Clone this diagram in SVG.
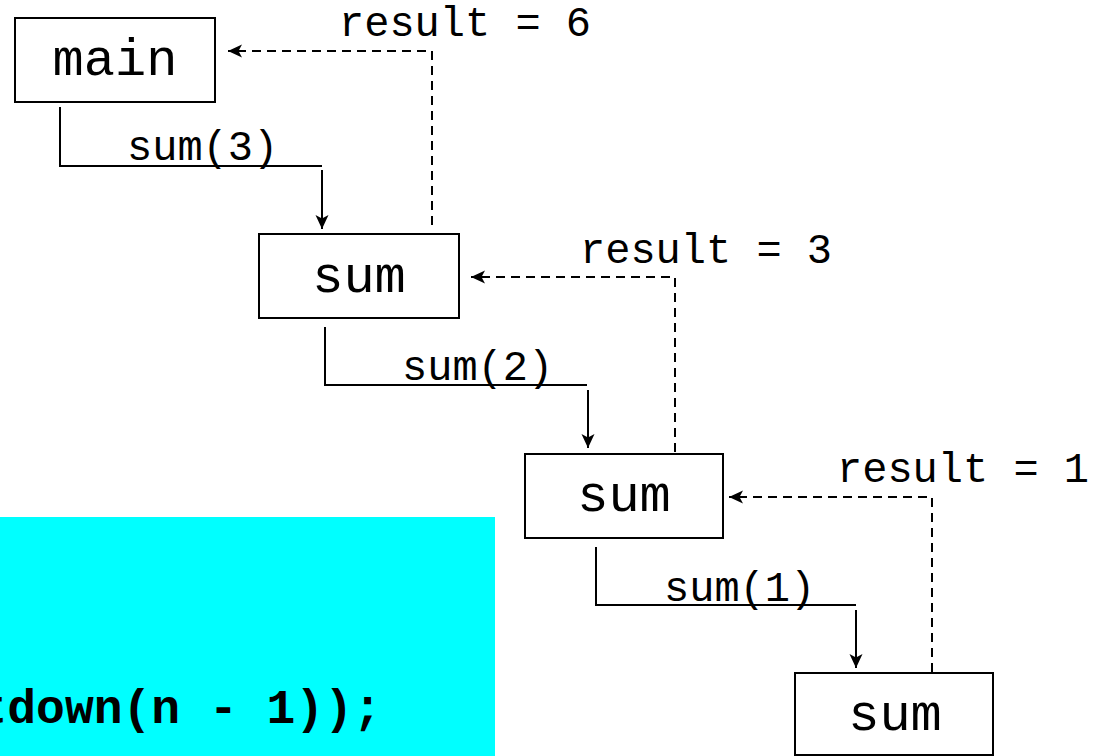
<svg xmlns="http://www.w3.org/2000/svg" width="1101" height="756" viewBox="0 0 1101 756">
<defs>
<style>
.box{fill:#fff;stroke:#000;stroke-width:2}
.lbl{font-family:"Liberation Mono","Courier New",monospace;font-size:52px;fill:#000;text-anchor:middle}
.small{font-family:"Liberation Mono","Courier New",monospace;font-size:42px;fill:#000}
.call{fill:none;stroke:#000;stroke-width:2}
.ret{fill:none;stroke:#000;stroke-width:2;stroke-dasharray:9 6}
.code{font-family:"Liberation Mono","Courier New",monospace;font-size:48px;font-weight:bold;fill:#000}
</style>
<marker id="ah" markerUnits="userSpaceOnUse" markerWidth="16" markerHeight="16" viewBox="0 0 16 16" refX="15" refY="8" orient="auto">
<path d="M1,1.5 L15,8 L1,14.5 L4.5,8 z" fill="#000"/>
</marker>
</defs>
<rect x="0" y="517" width="495" height="239" fill="#00ffff"/>
<text class="code" x="-21.5" y="723">tdown(n - 1));</text>
<g id="main"><rect class="box" x="15" y="18" width="200" height="84"/><text class="lbl" x="115" y="75">main</text></g>
<g id="sum1"><rect class="box" x="259" y="234" width="200" height="84"/><text class="lbl" x="359" y="292">sum</text></g>
<g id="sum2"><rect class="box" x="525" y="454" width="198" height="84"/><text class="lbl" x="624" y="511">sum</text></g>
<g id="sum3"><rect class="box" x="795" y="673" width="198" height="82"/><text class="lbl" x="895" y="730">sum</text></g>
<g id="connectors">
<polyline class="call" points="60,107 60,166 322,166"/>
<line class="call" x1="322" y1="170" x2="322" y2="229" marker-end="url(#ah)"/>
<polyline class="call" points="325,327 325,385 587,385"/>
<line class="call" x1="588" y1="390" x2="588" y2="448" marker-end="url(#ah)"/>
<polyline class="call" points="596,547 596,605 856,605"/>
<line class="call" x1="856" y1="610" x2="856" y2="668" marker-end="url(#ah)"/>
<polyline class="ret" points="432,225 432,51 228,51" marker-end="url(#ah)"/>
<polyline class="ret" points="675,452 675,277 471,277" marker-end="url(#ah)"/>
<polyline class="ret" points="932,672 932,497 729,497" marker-end="url(#ah)"/>
<text class="small" x="127" y="160">sum(3)</text>
<text class="small" x="402" y="380">sum(2)</text>
<text class="small" x="664" y="601">sum(1)</text>
<text class="small" x="339" y="36">result = 6</text>
<text class="small" x="580" y="263">result = 3</text>
<text class="small" x="837" y="482">result = 1</text>
</g>
</svg>
